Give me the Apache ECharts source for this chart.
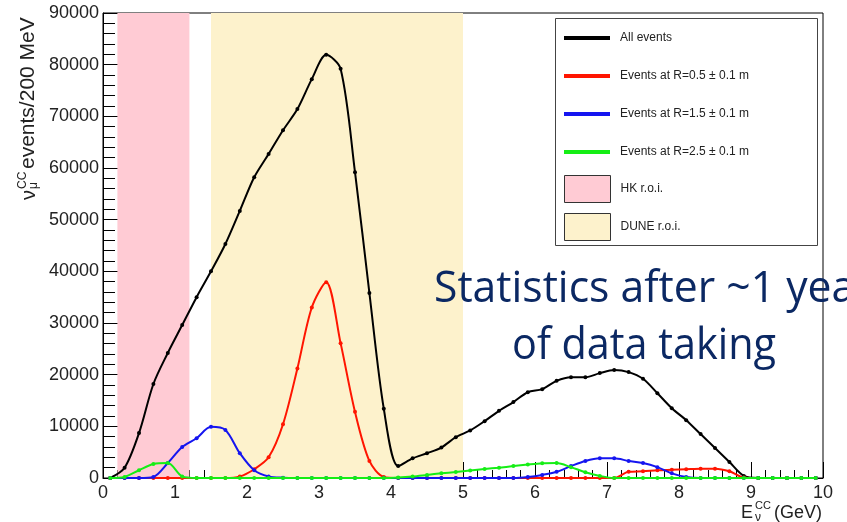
<!DOCTYPE html>
<html><head><meta charset="utf-8">
<script src="https://cdn.jsdelivr.net/npm/echarts@6/dist/echarts.min.js"></script>
<style>html,body{margin:0;padding:0;background:#fff}#c{width:847px;height:522px}</style>
</head><body><div id="c"></div>
<script>
// 200 MeV bin centres (GeV)
const binCenters = [0.1,0.3,0.5,0.7,0.9,1.1,1.3,1.5,1.7,1.9,
                    2.1,2.3,2.5,2.7,2.9,3.1,3.3,3.5,3.7,3.9,
                    4.1,4.3,4.5,4.7,4.9,5.1,5.3,5.5,5.7,5.9,
                    6.1,6.3,6.5,6.7,6.9,7.1,7.3,7.5,7.7,7.9,
                    8.1,8.3,8.5,8.7,8.9,9.1,9.3,9.5,9.7,9.9];
const allEvents = [0,2000,8700,18200,24200,29600,35000,40000,45300,51700,
                   58200,62700,67300,71400,77200,81900,79200,59200,35800,13400,
                   2300,3800,4800,5900,7900,9200,11000,13000,14700,16600,
                   17200,18800,19500,19500,20300,20900,20500,19200,16400,13500,
                   11200,8500,5800,3100,400,0,0,0,0,0];
const eventsR05 = [0,0,0,0,0,0,0,0,0,300,
                   1700,4000,10400,21200,33000,37900,26100,12800,3300,200,
                   0,0,0,0,0,0,0,0,0,0,
                   0,0,0,0,0,0,1200,1300,1500,1600,
                   1700,1800,1800,1300,100,0,0,0,0,0];
const eventsR15 = [0,0,0,200,2900,6000,7700,9900,9300,4800,
                   1500,300,50,0,0,0,0,0,0,0,
                   0,0,0,0,0,0,0,0,0,200,
                   600,1200,2300,3300,3800,3800,3300,2900,2100,900,
                   200,0,0,0,0,0,0,0,0,0];
const eventsR25 = [0,200,1500,2700,2900,300,0,0,0,0,
                   0,0,0,0,0,0,0,0,0,0,
                   100,300,600,900,1150,1450,1750,2000,2300,2600,
                   2850,2900,2100,1100,400,0,0,0,0,0,
                   0,0,0,0,0,0,0,0,0,0];
const hkRoi = [0.2, 1.2];
const duneRoi = [1.5, 5.0];
const seriesNames = ['All events','Events at R=0.5 \u00b1 0.1 m','Events at R=1.5 \u00b1 0.1 m','Events at R=2.5 \u00b1 0.1 m'];
const bandNames = ['HK r.o.i.','DUNE r.o.i.'];
const overlayLines = ['Statistics after ~1 year','of data taking'];

const FONT = 'Liberation Sans';
const lineColors = ['#000000','#FF1500','#1515F0','#15EE15'];
const bandColors = ['#FFCBD4','#FDF2CC'];
const seriesData = [allEvents, eventsR05, eventsR15, eventsR25];

function pairs(vals){ return binCenters.map((x,i)=>[x, vals[i]]); }

const lineSeries = seriesData.map((vals,k)=>({
  name: seriesNames[k], type:'line', data: pairs(vals),
  smooth: 0.3, clip: false, z: 3+k,
  symbol:'circle', symbolSize:4, showAllSymbol:true,
  lineStyle:{color:lineColors[k], width:2},
  itemStyle:{color:lineColors[k]},
  emphasis:{disabled:true}
}));
const bandSeries = [hkRoi, duneRoi].map((r,k)=>({
  name: bandNames[k], type:'line', data:[], z:-1,
  itemStyle:{color:bandColors[k]},
  markArea:{silent:true, itemStyle:{color:bandColors[k], opacity:1},
    data:[[{xAxis:r[0]},{xAxis:r[1]}]]}
}));

const axisCommon = {
  axisLine:{show:true, onZero:false, lineStyle:{color:'#000', width:1}},
  splitLine:{show:false},
};

const option = {
  animation:false,
  textStyle:{fontFamily:FONT},
  grid:{left:103, right:24, top:13, bottom:44, show:true, borderColor:'#000', borderWidth:1,
        backgroundColor:'transparent', outerBoundsMode:'none', containLabel:false},
  xAxis:Object.assign({type:'value', min:0, max:10, interval:1,
    axisTick:{inside:true, length:16, lineStyle:{color:'#000'}},
    minorTick:{show:true, splitNumber:5, length:8, lineStyle:{color:'#000'}},
    axisLabel:{fontFamily:FONT, fontSize:18, color:'#222', margin:6, formatter:v=>String(v)}}, axisCommon),
  yAxis:Object.assign({type:'value', min:0, max:90000, interval:10000,
    axisTick:{inside:true, length:22, lineStyle:{color:'#000'}},
    minorTick:{show:true, splitNumber:5, length:12, lineStyle:{color:'#000'}},
    axisLabel:{fontFamily:FONT, fontSize:18, color:'#222', margin:4, formatter:v=>String(v)}}, axisCommon),
  legend:[
    {data:seriesNames.map(n=>({name:n, icon:'rect'})), orient:'vertical', left:564, top:31,
     padding:0, itemWidth:46, itemHeight:4, itemGap:24, selectedMode:false,
     textStyle:{fontFamily:FONT, fontSize:12, color:'#222', lineHeight:14, padding:[0,0,0,5]}},
    {data:bandNames.map(n=>({name:n, icon:'rect', itemStyle:{borderColor:'#333', borderWidth:1}})),
     orient:'vertical', left:564, top:175,
     padding:0, itemWidth:46, itemHeight:27, itemGap:10, selectedMode:false,
     textStyle:{fontFamily:FONT, fontSize:12, color:'#222', lineHeight:14, padding:[0,0,0,5]}}
  ],
  graphic:[
    {type:'rect', z:3, shape:{x:555.5, y:18.5, width:262, height:227},
     style:{fill:'#fff', stroke:'#444', lineWidth:1}, silent:true},
    // y axis title
    {type:'group', x:36, y:200, rotation:Math.PI/2, z:10, silent:true, children:[
      {type:'text', x:0, y:-7, style:{text:'\u03bd', font:'20px "Liberation Sans"', fill:'#222', align:'left', verticalAlign:'middle'}},
      {type:'text', x:11, y:-13.2, style:{text:'CC', font:'12px "Liberation Sans"', fill:'#222', align:'left', verticalAlign:'middle'}},
      {type:'text', x:11, y:-2.2, style:{text:'\u03bc', font:'12px "Liberation Sans"', fill:'#222', align:'left', verticalAlign:'middle'}},
      {type:'text', x:31, y:-7.35, style:{text:'events/200 MeV', font:'21px "Liberation Sans"', fill:'#222', align:'left', verticalAlign:'middle'}}
    ]},
    // x axis title
    {type:'group', x:741, y:519, z:10, silent:true, children:[
      {type:'text', x:0, y:-6.3, style:{text:'E', font:'18px "Liberation Sans"', fill:'#222', align:'left', verticalAlign:'middle'}},
      {type:'text', x:14, y:-12.85, style:{text:'CC', font:'11px "Liberation Sans"', fill:'#222', align:'left', verticalAlign:'middle'}},
      {type:'text', x:14, y:-1.2, style:{text:'\u03bd', font:'12px "Liberation Sans"', fill:'#222', align:'left', verticalAlign:'middle'}},
      {type:'text', x:33, y:-6.3, style:{text:'(GeV)', font:'18px "Liberation Sans"', fill:'#222', align:'left', verticalAlign:'middle'}}
    ]},
    // overlay annotation
    {type:'text', x:434, y:289.6, scaleX:0.97, z:20, silent:true,
     style:{text:overlayLines[0], font:'44px "Open Sans"', fill:'#0B2863', align:'left', verticalAlign:'middle'}},
    {type:'text', x:512, y:346.6, scaleX:0.94, z:20, silent:true,
     style:{text:overlayLines[1], font:'44px "Open Sans"', fill:'#0B2863', align:'left', verticalAlign:'middle'}}
  ],
  series: bandSeries.concat(lineSeries)
};
const chart = echarts.init(document.getElementById('c'), null, {renderer:'canvas'});
chart.setOption(option);
</script>
</body></html>
